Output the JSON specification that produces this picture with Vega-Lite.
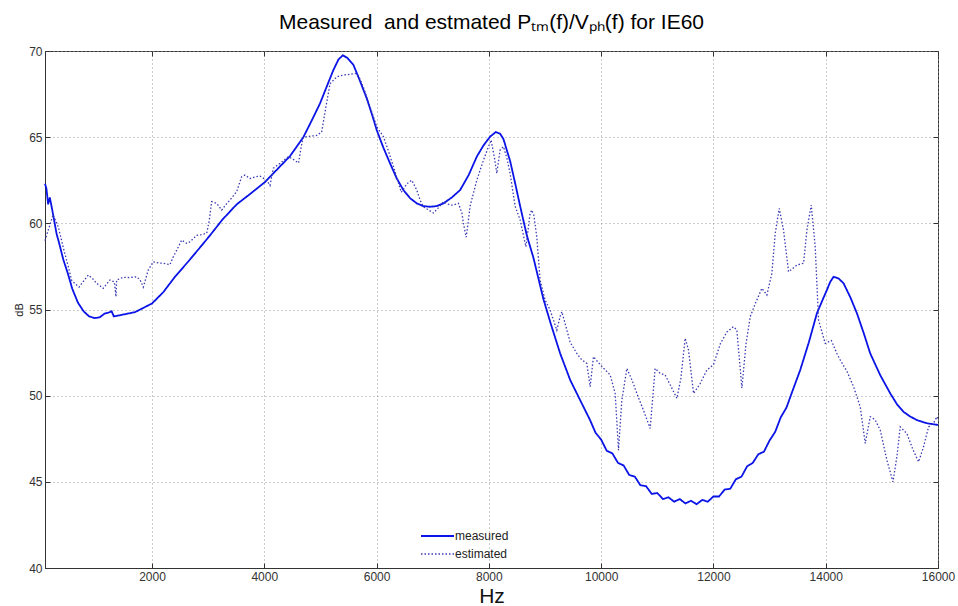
{
  "$schema": "https://vega.github.io/schema/vega-lite/v6.json",
  "width": 893,
  "height": 517,
  "autosize": {"type": "none"},
  "padding": {"left": 45, "top": 51, "right": 20, "bottom": 38},
  "background": "white",
  "title": {
    "text": "Measured\u00a0 and estmated Pₜₘ(f)/Vₚₕ(f) for IE60",
    "font": "Liberation Sans",
    "fontSize": 21,
    "fontWeight": "normal",
    "color": "#000000",
    "anchor": "middle",
    "offset": 12
  },
  "config": {
    "view": {"stroke": "#333333", "strokeWidth": 1},
    "axis": {
      "labelFont": "Liberation Sans",
      "labelFontSize": 12,
      "labelColor": "#333333",
      "labelFlush": false,
      "labelOverlap": false,
      "titleFont": "Liberation Sans",
      "titleFontWeight": "normal",
      "domainColor": "#333333",
      "tickColor": "#333333",
      "gridColor": "#999999",
      "gridDash": [1, 3],
      "gridWidth": 1
    }
  },
  "datasets": {
    "curves": [
      {"f": 94, "dB": 62.3, "series": "measured"},
      {"f": 120, "dB": 62.0, "series": "measured"},
      {"f": 150, "dB": 61.1, "series": "measured"},
      {"f": 180, "dB": 61.5, "series": "measured"},
      {"f": 210, "dB": 61.0, "series": "measured"},
      {"f": 250, "dB": 60.3, "series": "measured"},
      {"f": 300, "dB": 59.4, "series": "measured"},
      {"f": 350, "dB": 58.8, "series": "measured"},
      {"f": 420, "dB": 57.9, "series": "measured"},
      {"f": 500, "dB": 57.1, "series": "measured"},
      {"f": 580, "dB": 56.2, "series": "measured"},
      {"f": 680, "dB": 55.4, "series": "measured"},
      {"f": 780, "dB": 54.9, "series": "measured"},
      {"f": 880, "dB": 54.6, "series": "measured"},
      {"f": 980, "dB": 54.5, "series": "measured"},
      {"f": 1070, "dB": 54.55, "series": "measured"},
      {"f": 1150, "dB": 54.75, "series": "measured"},
      {"f": 1250, "dB": 54.85, "series": "measured"},
      {"f": 1280, "dB": 54.9, "series": "measured"},
      {"f": 1320, "dB": 54.6, "series": "measured"},
      {"f": 1400, "dB": 54.65, "series": "measured"},
      {"f": 1550, "dB": 54.75, "series": "measured"},
      {"f": 1700, "dB": 54.85, "series": "measured"},
      {"f": 1850, "dB": 55.1, "series": "measured"},
      {"f": 2000, "dB": 55.35, "series": "measured"},
      {"f": 2200, "dB": 56.0, "series": "measured"},
      {"f": 2409, "dB": 56.9, "series": "measured"},
      {"f": 2650, "dB": 57.8, "series": "measured"},
      {"f": 2855, "dB": 58.6, "series": "measured"},
      {"f": 3033, "dB": 59.3, "series": "measured"},
      {"f": 3250, "dB": 60.2, "series": "measured"},
      {"f": 3508, "dB": 61.1, "series": "measured"},
      {"f": 3746, "dB": 61.7, "series": "measured"},
      {"f": 4013, "dB": 62.4, "series": "measured"},
      {"f": 4250, "dB": 63.2, "series": "measured"},
      {"f": 4458, "dB": 63.9, "series": "measured"},
      {"f": 4696, "dB": 65.0, "series": "measured"},
      {"f": 4850, "dB": 66.0, "series": "measured"},
      {"f": 4993, "dB": 66.96, "series": "measured"},
      {"f": 5120, "dB": 68.0, "series": "measured"},
      {"f": 5231, "dB": 68.9, "series": "measured"},
      {"f": 5320, "dB": 69.5, "series": "measured"},
      {"f": 5397, "dB": 69.75, "series": "measured"},
      {"f": 5480, "dB": 69.6, "series": "measured"},
      {"f": 5587, "dB": 69.2, "series": "measured"},
      {"f": 5700, "dB": 68.3, "series": "measured"},
      {"f": 5825, "dB": 67.25, "series": "measured"},
      {"f": 5920, "dB": 66.3, "series": "measured"},
      {"f": 6003, "dB": 65.41, "series": "measured"},
      {"f": 6120, "dB": 64.4, "series": "measured"},
      {"f": 6240, "dB": 63.48, "series": "measured"},
      {"f": 6360, "dB": 62.6, "series": "measured"},
      {"f": 6478, "dB": 61.93, "series": "measured"},
      {"f": 6600, "dB": 61.45, "series": "measured"},
      {"f": 6716, "dB": 61.16, "series": "measured"},
      {"f": 6830, "dB": 61.0, "series": "measured"},
      {"f": 6953, "dB": 60.96, "series": "measured"},
      {"f": 7070, "dB": 61.0, "series": "measured"},
      {"f": 7191, "dB": 61.16, "series": "measured"},
      {"f": 7340, "dB": 61.5, "series": "measured"},
      {"f": 7488, "dB": 61.93, "series": "measured"},
      {"f": 7640, "dB": 62.8, "series": "measured"},
      {"f": 7785, "dB": 63.87, "series": "measured"},
      {"f": 7900, "dB": 64.5, "series": "measured"},
      {"f": 8022, "dB": 65.03, "series": "measured"},
      {"f": 8124, "dB": 65.3, "series": "measured"},
      {"f": 8200, "dB": 65.2, "series": "measured"},
      {"f": 8259, "dB": 64.9, "series": "measured"},
      {"f": 8380, "dB": 63.6, "series": "measured"},
      {"f": 8470, "dB": 62.3, "series": "measured"},
      {"f": 8557, "dB": 61.0, "series": "measured"},
      {"f": 8676, "dB": 59.3, "series": "measured"},
      {"f": 8794, "dB": 58.0, "series": "measured"},
      {"f": 8972, "dB": 55.6, "series": "measured"},
      {"f": 9100, "dB": 54.2, "series": "measured"},
      {"f": 9270, "dB": 52.45, "series": "measured"},
      {"f": 9450, "dB": 50.9, "series": "measured"},
      {"f": 9626, "dB": 49.74, "series": "measured"},
      {"f": 9800, "dB": 48.6, "series": "measured"},
      {"f": 9900, "dB": 47.85, "series": "measured"},
      {"f": 10000, "dB": 47.45, "series": "measured"},
      {"f": 10100, "dB": 46.8, "series": "measured"},
      {"f": 10200, "dB": 46.65, "series": "measured"},
      {"f": 10300, "dB": 46.1, "series": "measured"},
      {"f": 10400, "dB": 45.95, "series": "measured"},
      {"f": 10500, "dB": 45.4, "series": "measured"},
      {"f": 10600, "dB": 45.3, "series": "measured"},
      {"f": 10700, "dB": 44.8, "series": "measured"},
      {"f": 10800, "dB": 44.75, "series": "measured"},
      {"f": 10900, "dB": 44.3, "series": "measured"},
      {"f": 11000, "dB": 44.35, "series": "measured"},
      {"f": 11100, "dB": 44.0, "series": "measured"},
      {"f": 11200, "dB": 44.1, "series": "measured"},
      {"f": 11300, "dB": 43.85, "series": "measured"},
      {"f": 11400, "dB": 44.0, "series": "measured"},
      {"f": 11500, "dB": 43.75, "series": "measured"},
      {"f": 11600, "dB": 43.9, "series": "measured"},
      {"f": 11700, "dB": 43.7, "series": "measured"},
      {"f": 11800, "dB": 43.95, "series": "measured"},
      {"f": 11900, "dB": 43.85, "series": "measured"},
      {"f": 12000, "dB": 44.15, "series": "measured"},
      {"f": 12100, "dB": 44.15, "series": "measured"},
      {"f": 12200, "dB": 44.55, "series": "measured"},
      {"f": 12300, "dB": 44.6, "series": "measured"},
      {"f": 12400, "dB": 45.15, "series": "measured"},
      {"f": 12500, "dB": 45.3, "series": "measured"},
      {"f": 12600, "dB": 45.9, "series": "measured"},
      {"f": 12700, "dB": 46.1, "series": "measured"},
      {"f": 12800, "dB": 46.6, "series": "measured"},
      {"f": 12900, "dB": 46.75, "series": "measured"},
      {"f": 13000, "dB": 47.4, "series": "measured"},
      {"f": 13100, "dB": 47.9, "series": "measured"},
      {"f": 13200, "dB": 48.75, "series": "measured"},
      {"f": 13300, "dB": 49.3, "series": "measured"},
      {"f": 13400, "dB": 50.2, "series": "measured"},
      {"f": 13546, "dB": 51.49, "series": "measured"},
      {"f": 13700, "dB": 53.1, "series": "measured"},
      {"f": 13843, "dB": 54.78, "series": "measured"},
      {"f": 13950, "dB": 55.6, "series": "measured"},
      {"f": 14021, "dB": 56.13, "series": "measured"},
      {"f": 14080, "dB": 56.6, "series": "measured"},
      {"f": 14140, "dB": 56.9, "series": "measured"},
      {"f": 14230, "dB": 56.8, "series": "measured"},
      {"f": 14318, "dB": 56.52, "series": "measured"},
      {"f": 14440, "dB": 55.7, "series": "measured"},
      {"f": 14556, "dB": 54.78, "series": "measured"},
      {"f": 14680, "dB": 53.6, "series": "measured"},
      {"f": 14793, "dB": 52.45, "series": "measured"},
      {"f": 14970, "dB": 51.2, "series": "measured"},
      {"f": 15150, "dB": 50.13, "series": "measured"},
      {"f": 15270, "dB": 49.5, "series": "measured"},
      {"f": 15387, "dB": 49.06, "series": "measured"},
      {"f": 15500, "dB": 48.8, "series": "measured"},
      {"f": 15625, "dB": 48.58, "series": "measured"},
      {"f": 15800, "dB": 48.4, "series": "measured"},
      {"f": 16000, "dB": 48.3, "series": "measured"},

      {"f": 94, "dB": 59.0, "series": "estimated"},
      {"f": 140, "dB": 59.5, "series": "estimated"},
      {"f": 182, "dB": 59.9, "series": "estimated"},
      {"f": 237, "dB": 60.5, "series": "estimated"},
      {"f": 290, "dB": 60.1, "series": "estimated"},
      {"f": 330, "dB": 59.8, "series": "estimated"},
      {"f": 419, "dB": 58.6, "series": "estimated"},
      {"f": 508, "dB": 57.5, "series": "estimated"},
      {"f": 568, "dB": 56.7, "series": "estimated"},
      {"f": 627, "dB": 56.5, "series": "estimated"},
      {"f": 700, "dB": 56.3, "series": "estimated"},
      {"f": 865, "dB": 57.0, "series": "estimated"},
      {"f": 940, "dB": 56.8, "series": "estimated"},
      {"f": 1014, "dB": 56.52, "series": "estimated"},
      {"f": 1132, "dB": 56.23, "series": "estimated"},
      {"f": 1251, "dB": 56.71, "series": "estimated"},
      {"f": 1330, "dB": 56.6, "series": "estimated"},
      {"f": 1358, "dB": 55.74, "series": "estimated"},
      {"f": 1370, "dB": 56.71, "series": "estimated"},
      {"f": 1488, "dB": 56.87, "series": "estimated"},
      {"f": 1600, "dB": 56.85, "series": "estimated"},
      {"f": 1726, "dB": 56.9, "series": "estimated"},
      {"f": 1790, "dB": 56.7, "series": "estimated"},
      {"f": 1845, "dB": 56.3, "series": "estimated"},
      {"f": 1933, "dB": 57.29, "series": "estimated"},
      {"f": 2023, "dB": 57.77, "series": "estimated"},
      {"f": 2120, "dB": 57.7, "series": "estimated"},
      {"f": 2201, "dB": 57.68, "series": "estimated"},
      {"f": 2320, "dB": 57.6, "series": "estimated"},
      {"f": 2379, "dB": 58.06, "series": "estimated"},
      {"f": 2450, "dB": 58.5, "series": "estimated"},
      {"f": 2528, "dB": 59.03, "series": "estimated"},
      {"f": 2617, "dB": 58.84, "series": "estimated"},
      {"f": 2676, "dB": 58.93, "series": "estimated"},
      {"f": 2796, "dB": 59.3, "series": "estimated"},
      {"f": 2880, "dB": 59.35, "series": "estimated"},
      {"f": 2974, "dB": 59.42, "series": "estimated"},
      {"f": 3021, "dB": 60.19, "series": "estimated"},
      {"f": 3062, "dB": 61.26, "series": "estimated"},
      {"f": 3152, "dB": 61.16, "series": "estimated"},
      {"f": 3241, "dB": 60.77, "series": "estimated"},
      {"f": 3320, "dB": 61.1, "series": "estimated"},
      {"f": 3389, "dB": 61.35, "series": "estimated"},
      {"f": 3508, "dB": 61.84, "series": "estimated"},
      {"f": 3597, "dB": 62.7, "series": "estimated"},
      {"f": 3656, "dB": 62.8, "series": "estimated"},
      {"f": 3746, "dB": 62.6, "series": "estimated"},
      {"f": 3850, "dB": 62.7, "series": "estimated"},
      {"f": 3924, "dB": 62.74, "series": "estimated"},
      {"f": 4043, "dB": 62.5, "series": "estimated"},
      {"f": 4102, "dB": 62.2, "series": "estimated"},
      {"f": 4161, "dB": 63.2, "series": "estimated"},
      {"f": 4280, "dB": 63.48, "series": "estimated"},
      {"f": 4428, "dB": 63.87, "series": "estimated"},
      {"f": 4520, "dB": 63.7, "series": "estimated"},
      {"f": 4610, "dB": 63.5, "series": "estimated"},
      {"f": 4660, "dB": 64.5, "series": "estimated"},
      {"f": 4696, "dB": 65.0, "series": "estimated"},
      {"f": 4800, "dB": 65.05, "series": "estimated"},
      {"f": 4934, "dB": 65.1, "series": "estimated"},
      {"f": 5022, "dB": 65.3, "series": "estimated"},
      {"f": 5100, "dB": 66.8, "series": "estimated"},
      {"f": 5171, "dB": 68.1, "series": "estimated"},
      {"f": 5290, "dB": 68.5, "series": "estimated"},
      {"f": 5400, "dB": 68.6, "series": "estimated"},
      {"f": 5527, "dB": 68.65, "series": "estimated"},
      {"f": 5646, "dB": 68.7, "series": "estimated"},
      {"f": 5700, "dB": 68.4, "series": "estimated"},
      {"f": 5765, "dB": 67.9, "series": "estimated"},
      {"f": 5884, "dB": 66.77, "series": "estimated"},
      {"f": 6003, "dB": 65.6, "series": "estimated"},
      {"f": 6122, "dB": 65.03, "series": "estimated"},
      {"f": 6200, "dB": 64.3, "series": "estimated"},
      {"f": 6300, "dB": 63.3, "series": "estimated"},
      {"f": 6440, "dB": 61.8, "series": "estimated"},
      {"f": 6540, "dB": 62.3, "series": "estimated"},
      {"f": 6627, "dB": 62.5, "series": "estimated"},
      {"f": 6716, "dB": 61.93, "series": "estimated"},
      {"f": 6775, "dB": 61.35, "series": "estimated"},
      {"f": 6834, "dB": 60.96, "series": "estimated"},
      {"f": 7013, "dB": 60.6, "series": "estimated"},
      {"f": 7100, "dB": 60.9, "series": "estimated"},
      {"f": 7191, "dB": 61.25, "series": "estimated"},
      {"f": 7310, "dB": 61.06, "series": "estimated"},
      {"f": 7369, "dB": 61.06, "series": "estimated"},
      {"f": 7458, "dB": 61.16, "series": "estimated"},
      {"f": 7520, "dB": 60.6, "series": "estimated"},
      {"f": 7547, "dB": 60.0, "series": "estimated"},
      {"f": 7595, "dB": 59.2, "series": "estimated"},
      {"f": 7625, "dB": 59.9, "series": "estimated"},
      {"f": 7666, "dB": 61.0, "series": "estimated"},
      {"f": 7785, "dB": 62.5, "series": "estimated"},
      {"f": 7904, "dB": 63.67, "series": "estimated"},
      {"f": 7993, "dB": 64.45, "series": "estimated"},
      {"f": 8040, "dB": 64.83, "series": "estimated"},
      {"f": 8100, "dB": 63.8, "series": "estimated"},
      {"f": 8141, "dB": 62.9, "series": "estimated"},
      {"f": 8200, "dB": 64.25, "series": "estimated"},
      {"f": 8260, "dB": 64.45, "series": "estimated"},
      {"f": 8320, "dB": 63.8, "series": "estimated"},
      {"f": 8379, "dB": 62.9, "series": "estimated"},
      {"f": 8467, "dB": 61.0, "series": "estimated"},
      {"f": 8557, "dB": 60.2, "series": "estimated"},
      {"f": 8660, "dB": 58.64, "series": "estimated"},
      {"f": 8735, "dB": 60.58, "series": "estimated"},
      {"f": 8765, "dB": 60.77, "series": "estimated"},
      {"f": 8800, "dB": 60.5, "series": "estimated"},
      {"f": 8854, "dB": 59.2, "series": "estimated"},
      {"f": 8913, "dB": 56.7, "series": "estimated"},
      {"f": 9002, "dB": 55.55, "series": "estimated"},
      {"f": 9091, "dB": 54.97, "series": "estimated"},
      {"f": 9150, "dB": 54.4, "series": "estimated"},
      {"f": 9210, "dB": 53.8, "series": "estimated"},
      {"f": 9270, "dB": 54.6, "series": "estimated"},
      {"f": 9300, "dB": 54.87, "series": "estimated"},
      {"f": 9340, "dB": 54.4, "series": "estimated"},
      {"f": 9448, "dB": 53.1, "series": "estimated"},
      {"f": 9567, "dB": 52.45, "series": "estimated"},
      {"f": 9650, "dB": 52.1, "series": "estimated"},
      {"f": 9745, "dB": 51.87, "series": "estimated"},
      {"f": 9804, "dB": 50.52, "series": "estimated"},
      {"f": 9863, "dB": 52.26, "series": "estimated"},
      {"f": 9983, "dB": 51.8, "series": "estimated"},
      {"f": 10131, "dB": 51.3, "series": "estimated"},
      {"f": 10161, "dB": 51.2, "series": "estimated"},
      {"f": 10250, "dB": 50.13, "series": "estimated"},
      {"f": 10309, "dB": 46.84, "series": "estimated"},
      {"f": 10369, "dB": 49.74, "series": "estimated"},
      {"f": 10458, "dB": 51.58, "series": "estimated"},
      {"f": 10550, "dB": 50.9, "series": "estimated"},
      {"f": 10636, "dB": 50.13, "series": "estimated"},
      {"f": 10760, "dB": 49.1, "series": "estimated"},
      {"f": 10873, "dB": 48.1, "series": "estimated"},
      {"f": 10962, "dB": 51.58, "series": "estimated"},
      {"f": 11050, "dB": 51.3, "series": "estimated"},
      {"f": 11140, "dB": 51.2, "series": "estimated"},
      {"f": 11250, "dB": 50.5, "series": "estimated"},
      {"f": 11349, "dB": 49.84, "series": "estimated"},
      {"f": 11420, "dB": 51.0, "series": "estimated"},
      {"f": 11497, "dB": 53.33, "series": "estimated"},
      {"f": 11556, "dB": 52.65, "series": "estimated"},
      {"f": 11646, "dB": 50.13, "series": "estimated"},
      {"f": 11764, "dB": 50.7, "series": "estimated"},
      {"f": 11883, "dB": 51.49, "series": "estimated"},
      {"f": 12001, "dB": 51.8, "series": "estimated"},
      {"f": 12121, "dB": 53.0, "series": "estimated"},
      {"f": 12240, "dB": 53.7, "series": "estimated"},
      {"f": 12357, "dB": 54.0, "series": "estimated"},
      {"f": 12417, "dB": 53.8, "series": "estimated"},
      {"f": 12507, "dB": 50.45, "series": "estimated"},
      {"f": 12580, "dB": 53.0, "series": "estimated"},
      {"f": 12655, "dB": 54.58, "series": "estimated"},
      {"f": 12740, "dB": 55.3, "series": "estimated"},
      {"f": 12863, "dB": 56.23, "series": "estimated"},
      {"f": 12952, "dB": 55.84, "series": "estimated"},
      {"f": 13041, "dB": 57.1, "series": "estimated"},
      {"f": 13100, "dB": 59.4, "series": "estimated"},
      {"f": 13172, "dB": 60.87, "series": "estimated"},
      {"f": 13249, "dB": 59.6, "series": "estimated"},
      {"f": 13338, "dB": 57.19, "series": "estimated"},
      {"f": 13487, "dB": 57.58, "series": "estimated"},
      {"f": 13605, "dB": 57.68, "series": "estimated"},
      {"f": 13665, "dB": 59.61, "series": "estimated"},
      {"f": 13742, "dB": 61.06, "series": "estimated"},
      {"f": 13813, "dB": 58.64, "series": "estimated"},
      {"f": 13872, "dB": 54.39, "series": "estimated"},
      {"f": 13991, "dB": 53.03, "series": "estimated"},
      {"f": 14100, "dB": 53.2, "series": "estimated"},
      {"f": 14199, "dB": 52.45, "series": "estimated"},
      {"f": 14259, "dB": 52.07, "series": "estimated"},
      {"f": 14380, "dB": 51.4, "series": "estimated"},
      {"f": 14496, "dB": 50.52, "series": "estimated"},
      {"f": 14615, "dB": 49.35, "series": "estimated"},
      {"f": 14704, "dB": 47.23, "series": "estimated"},
      {"f": 14793, "dB": 48.78, "series": "estimated"},
      {"f": 14880, "dB": 48.6, "series": "estimated"},
      {"f": 14971, "dB": 48.0, "series": "estimated"},
      {"f": 15090, "dB": 46.26, "series": "estimated"},
      {"f": 15197, "dB": 45.0, "series": "estimated"},
      {"f": 15270, "dB": 46.5, "series": "estimated"},
      {"f": 15327, "dB": 48.19, "series": "estimated"},
      {"f": 15446, "dB": 47.8, "series": "estimated"},
      {"f": 15550, "dB": 46.9, "series": "estimated"},
      {"f": 15654, "dB": 46.16, "series": "estimated"},
      {"f": 15740, "dB": 47.0, "series": "estimated"},
      {"f": 15832, "dB": 48.19, "series": "estimated"},
      {"f": 15920, "dB": 48.4, "series": "estimated"},
      {"f": 15981, "dB": 48.78, "series": "estimated"},
      {"f": 16000, "dB": 48.6, "series": "estimated"}
    ]
  },
  "data": {"name": "curves"},
  "layer": [
    {
      "mark": {"type": "line", "strokeOpacity": 0},
      "encoding": {
        "x": {"field": "f", "type": "quantitative", "scale": {"domain": [94, 16000], "nice": false, "zero": false},
              "axis": {"orient": "top", "values": [2000, 4000, 6000, 8000, 10000, 12000, 14000, 16000], "labels": false, "grid": false, "title": null, "domain": false, "tickSize": -5}},
        "y": {"field": "dB", "type": "quantitative", "scale": {"domain": [40, 70], "nice": false, "zero": false},
              "axis": {"orient": "right", "values": [40, 45, 50, 55, 60, 65, 70], "labels": false, "grid": false, "title": null, "domain": false, "tickSize": -5}},
        "detail": {"field": "series"}
      }
    },
    {
      "mark": {"type": "line", "interpolate": "linear"},
      "encoding": {
        "x": {"field": "f", "type": "quantitative",
              "axis": {"orient": "bottom", "values": [2000, 4000, 6000, 8000, 10000, 12000, 14000, 16000], "grid": true, "title": "Hz", "titleFontSize": 21, "titleColor": "#111111", "titlePadding": 3, "tickSize": -5, "labelPadding": 8, "format": "d"}},
        "y": {"field": "dB", "type": "quantitative",
              "axis": {"orient": "left", "values": [40, 45, 50, 55, 60, 65, 70], "grid": true, "title": "dB", "titleFontSize": 11, "titleColor": "#222222", "titlePadding": 4, "tickSize": -5, "labelPadding": 8}},
        "color": {"field": "series", "type": "nominal", "sort": ["measured", "estimated"],
                  "scale": {"domain": ["measured", "estimated"], "range": ["#0a14e6", "#3a3ab4"]},
                  "legend": {"title": null, "orient": "none", "legendX": 375, "legendY": 477, "symbolType": "stroke", "symbolSize": 1089, "labelFont": "Liberation Sans", "labelFontSize": 12, "labelColor": "#222222", "labelOffset": 0, "padding": 0, "rowPadding": 2, "clipHeight": 16}},
        "strokeDash": {"field": "series", "type": "nominal", "sort": ["measured", "estimated"],
                  "scale": {"domain": ["measured", "estimated"], "range": [[1, 0], [1.5, 2]]}},
        "strokeWidth": {"field": "series", "type": "nominal", "sort": ["measured", "estimated"],
                  "scale": {"domain": ["measured", "estimated"], "range": [1.8, 1.3]}}
      }
    }
  ]
}
